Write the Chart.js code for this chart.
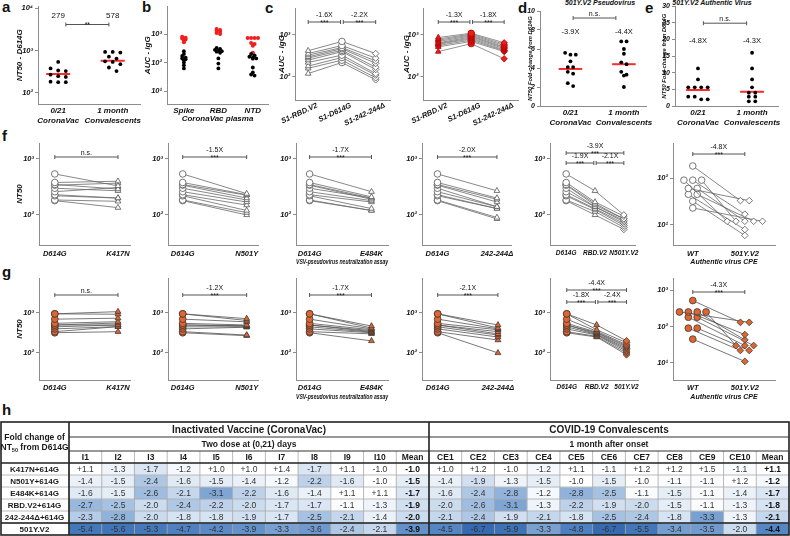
<!DOCTYPE html>
<html>
<head>
<meta charset="utf-8">
<title>501Y.V2 neutralization</title>
<script src="https://cdn.jsdelivr.net/npm/chart.js@4.4.0/dist/chart.umd.min.js"></script>
<style>
  body { margin: 0; width: 790px; height: 536px; position: relative; overflow: hidden; background: #fff;
         font-family: "Liberation Sans", Arial, sans-serif; color: #111; }
  canvas { position: absolute; }
  .letter { position: absolute; font-size: 15px; font-weight: bold; line-height: 15px; }
  .title { position: absolute; font-size: 7px; font-style: italic; font-weight: bold; white-space: nowrap; transform: translateX(-50%); }
</style>
</head>
<body>
<div class="letter" style="left:2px;top:-1px">a</div>
<div class="letter" style="left:142px;top:-1px">b</div>
<div class="letter" style="left:265px;top:0px">c</div>
<div class="letter" style="left:518px;top:0px">d</div>
<div class="letter" style="left:645px;top:0px">e</div>
<div class="letter" style="left:2px;top:128px">f</div>
<div class="letter" style="left:2px;top:264px">g</div>
<div class="letter" style="left:2px;top:402px">h</div>
<div class="title" style="left:600px;top:-1px">501Y.V2 Pseudovirus</div>
<div class="title" style="left:712px;top:-1px">501Y.V2 Authentic Virus</div>
<script>
// ---- a: NT50 against D614G
const aGroups = ['0/21|CoronaVac', '1 month|Convalescents'];
const aCoronaVac = [540, 380, 340, 330, 270, 250, 240, 185, 180, 180];
const aConvalescent = [930, 930, 900, 720, 650, 560, 540, 480, 400, 330];
const aGeoMean = [279, 578];

// ---- b: IgG AUC in CoronaVac plasma
const bAntigens = ['Spike', 'RBD', 'NTD'];
const bBlack = [
  [250, 200, 170, 150, 140, 130, 120, 100, 80, 62],
  [330, 300, 280, 260, 250, 240, 220, 140, 92, 62],
  [200, 180, 160, 150, 140, 137, 67, 45, 38, 35]
];
const bRed = [
  [800, 750, 700, 650, 600, 520],
  [1500, 1400, 1300, 1200, 1100, 1000],
  [730, 730, 730, 730, 490, 450, 390, 220]
];

// ---- c: S1 IgG AUC
const cAntigens = ['S1-RBD.V2', 'S1-D614G', 'S1-242-244Δ'];
const cCoronaVac = [
  [420, 360, 330, 300, 280, 250, 220, 180, 160, 120],
  [700, 560, 500, 470, 430, 400, 330, 290, 250, 220],
  [360, 280, 240, 210, 170, 150, 120, 110, 95, 85]
];
const cConvalescent = [
  [870, 800, 750, 700, 650, 620, 600, 560, 520, 400],
  [1100, 1050, 1000, 950, 900, 850, 800, 750, 700, 620],
  [650, 600, 560, 520, 500, 470, 440, 420, 400, 270]
];
const cFold = [['-1.6X', '-2.2X'], ['-1.3X', '-1.8X']];

// ---- d, e: fold change from D614G
const deGroups = ['0/21|CoronaVac', '1 month|Convalescents'];
const dCoronaVac = [5.6, 5.4, 5.4, 4.7, 4.1, 4.1, 3.6, 3.4, 2.4, 2.1];
const dConvalescent = [6.8, 6.8, 6.0, 5.5, 4.6, 4.4, 3.6, 3.3, 3.2, 2.0];
const dMean = [3.9, 4.4];
const eCoronaVac = [11.3, 8.0, 5.6, 5.6, 5.6, 5.6, 2.8, 2.8, 2.0, 2.0];
const eConvalescent = [16, 11.3, 8.0, 5.6, 4.0, 4.0, 2.8, 2.8, 1.4, 1.4];
const eMean = [4.8, 4.3];

// ---- f: CoronaVac sera, NT50
const pseudoVariants = ['K417N', 'N501Y', 'E484K', '242-244Δ'];
const fD614G = [540, 380, 350, 340, 300, 260, 230, 220, 185, 180];
const fVariant = [
  [330, 400, 290, 370, 270, 310, 200, 200, 175, 135],
  [240, 230, 225, 200, 185, 170, 150, 120, 110, 100],
  [260, 210, 200, 190, 200, 180, 170, 130, 120, 120],
  [270, 200, 190, 170, 140, 140, 130, 130, 90, 85]
];
const fFold = ['n.s.', '-1.5X', '-1.7X', '-2.0X'];
const fRBDV2 = [270, 170, 160, 150, 140, 140, 130, 125, 115, 100];
const fN501YV2 = [100, 95, 85, 85, 80, 75, 70, 65, 60, 55];
const fV2Fold = ['-3.9X', '-1.9X', '-2.1X'];
const fWT = [180, 90, 90, 90, 60, 60, 45, 45, 32, 23];
const f501YV2 = [33, 12, 17, 12, 33, 12, 8, 12, 6, 12];
const fCpeFold = '-4.8X';

// ---- g: convalescent sera, NT50
const gD614G = [950, 950, 700, 550, 500, 500, 450, 400, 340, 320];
const gVariant = [
  [1080, 930, 740, 605, 560, 500, 500, 455, 455, 340],
  [720, 650, 600, 500, 480, 470, 450, 440, 280, 270],
  [470, 420, 400, 380, 360, 340, 330, 320, 300, 200],
  [500, 420, 400, 380, 340, 300, 280, 250, 210, 100]
];
const gFold = ['n.s.', '-1.2X', '-1.7X', '-2.1X'];
const gRBDV2 = [500, 380, 350, 330, 320, 300, 290, 280, 260, 250];
const g501YV2 = [200, 180, 160, 150, 140, 130, 120, 110, 100, 90];
const gV2Fold = ['-4.4X', '-1.8X', '-2.4X'];
const gWT = [515, 250, 250, 250, 250, 180, 180, 90, 90, 45];
const gCpe501YV2 = [130, 130, 60, 43, 30, 30, 30, 22, 22, 11];
const gCpeFold = '-4.3X';

// ---- h: fold change table
const tableRows = ['K417N+614G', 'N501Y+614G', 'E484K+614G', 'RBD.V2+614G', '242-244Δ+614G', '501Y.V2'];
const vaccineCols = ['I1', 'I2', 'I3', 'I4', 'I5', 'I6', 'I7', 'I8', 'I9', 'I10', 'Mean'];
const convCols = ['CE1', 'CE2', 'CE3', 'CE4', 'CE5', 'CE6', 'CE7', 'CE8', 'CE9', 'CE10', 'Mean'];
const vaccineFold = [
  [1.1, -1.3, -1.7, -1.2, 1.0, 1.0, 1.4, -1.7, 1.1, -1.0, -1.0],
  [-1.4, -1.5, -2.4, -1.6, -1.5, -1.4, -1.2, -2.2, -1.6, -1.0, -1.5],
  [-1.6, -1.5, -2.6, -2.1, -3.1, -2.2, -1.6, -1.4, 1.1, 1.1, -1.7],
  [-2.7, -2.5, -2.0, -2.4, -2.2, -2.0, -1.7, -1.7, -1.1, -1.3, -1.9],
  [-2.3, -2.8, -2.0, -1.8, -1.8, -1.9, -1.7, -2.5, -2.1, -1.4, -2.0],
  [-5.4, -5.6, -5.3, -4.7, -4.2, -3.9, -3.3, -3.6, -2.4, -2.1, -3.9]
];
const convFold = [
  [1.0, 1.2, -1.0, -1.2, 1.1, -1.1, 1.2, 1.2, 1.5, -1.1, 1.1],
  [-1.4, -1.9, -1.3, -1.5, -1.0, -1.5, -1.0, -1.1, -1.1, 1.2, -1.2],
  [-1.6, -2.4, -2.8, -1.2, -2.8, -2.5, -1.1, -1.5, -1.1, -1.4, -1.7],
  [-2.0, -2.6, -3.1, -1.3, -2.2, -1.9, -2.0, -1.5, -1.1, -1.3, -1.8],
  [-2.1, -2.4, -1.9, -2.1, -1.8, -2.5, -2.4, -1.8, -3.3, -1.3, -2.1],
  [-4.5, -6.7, -5.9, -3.3, -4.8, -6.7, -5.5, -3.4, -3.5, -2.0, -4.4]
];

// ---------------------------------------------------------------
const FONT = '"Liberation Sans", Arial, sans-serif';
Chart.defaults.font.family = FONT;
Chart.defaults.color = '#111';

const SUP = {0: '⁰', 1: '¹', 2: '²', 3: '³', 4: '⁴'};
const axisGrey = '#8c8c8c';
const tickFont = {size: 7.5, style: 'italic', weight: 'bold'};
const labFont = {size: 8, style: 'italic', weight: 'bold'};
const smallFont = {size: 7, style: 'italic', weight: 'bold'};

// spread points that share (nearly) the same value side by side
function swarm(vals, step, tol, log) {
  const t = vals.map(v => log ? Math.log10(v) : v);
  const order = t.map((v, i) => i).sort((i, j) => t[j] - t[i]);
  const off = new Array(vals.length).fill(0);
  let grp = [];
  const flush = () => {
    grp.forEach((idx, k) => { off[idx] = (k - (grp.length - 1) / 2) * step; });
    grp = [];
  };
  order.forEach(i => {
    if (grp.length && t[grp[0]] - t[i] > tol) flush();
    grp.push(i);
  });
  flush();
  return off;
}

function dots(values, cat, step, tol, log, color, r) {
  const off = swarm(values, step, tol, log);
  return {
    data: values.map((v, i) => ({x: cat + off[i], y: v})),
    pointRadius: r, pointBackgroundColor: color, pointBorderColor: color, pointBorderWidth: 0
  };
}

function meanBar(v, cat) {
  return {data: [{x: cat - 0.22, y: v}, {x: cat + 0.22, y: v}], showLine: true,
          borderColor: '#ff2a2a', borderWidth: 2, pointRadius: 0};
}

// one line per donor, joining that donor's values across categories
function paired(series, styles, o) {
  const offs = series.map(s => o.swarm ? swarm(s, o.swarm, o.tol, true) : s.map(() => 0));
  return series[0].map((_, i) => ({
    data: series.map((s, k) => ({x: k + 1 + offs[k][i], y: s[i]})),
    showLine: true, borderColor: o.line, borderWidth: 0.8,
    pointStyle: styles, pointRadius: o.r, pointBackgroundColor: o.fill,
    pointBorderColor: o.edge, pointBorderWidth: 0.8
  }));
}

const openStyle = {line: '#6a6a6a', fill: '#fff', edge: '#555', r: 3.3};
const orangeStyle = {line: '#555', fill: '#e2652e', edge: '#3a3a3a', r: 3.4};
const redStyle = {line: '#777', fill: '#f01c1c', edge: '#b00000', r: 3.2};

function yAxis(o) {
  const ax = {
    type: o.log ? 'logarithmic' : 'linear',
    min: o.min, max: o.max,
    ticks: {font: o.font || tickFont, color: '#111', padding: 2, autoSkip: false},
    grid: {display: true, drawOnChartArea: false, tickLength: 3, color: axisGrey},
    border: {color: axisGrey},
    title: {display: !!o.title, text: o.title || '', font: o.titleFont || labFont, color: '#111'}
  };
  if (o.log) {
    ax.afterBuildTicks = s => { s.ticks = o.powers.map(v => ({value: v})); };
    ax.ticks.callback = v => '10' + SUP[Math.round(Math.log10(v))];
  } else {
    ax.ticks.stepSize = o.step;
  }
  return ax;
}

function xAxis(o) {
  return {
    type: 'linear', min: o.min, max: o.max,
    afterBuildTicks: s => { s.ticks = o.labels.map((_, i) => ({value: i + 1})); },
    ticks: {font: o.font || tickFont, color: '#111', padding: o.pad ?? 2, autoSkip: false,
            minRotation: o.rot || 0, maxRotation: o.rot || 0, labelOffset: o.shift || 0,
            callback: v => o.labels[Math.round(v) - 1].split('|')},
    grid: {display: false, drawTicks: false},
    border: {color: axisGrey},
    title: {display: !!o.title, text: o.title || '', font: o.titleFont || smallFont, color: '#111'}
  };
}

// brackets with fold labels and free texts placed on the x scale
const marks = {
  id: 'marks',
  afterDatasetsDraw(chart, args, opts) {
    const {ctx, chartArea: ca, scales: {x}} = chart;
    ctx.save();
    ctx.fillStyle = '#111';
    ctx.strokeStyle = '#555';
    ctx.lineWidth = 1;
    ctx.textAlign = 'center';
    (opts.brackets || []).forEach(b => {
      const x1 = x.getPixelForValue(b.from), x2 = x.getPixelForValue(b.to);
      const yy = ca.top + b.dy, xm = (x1 + x2) / 2;
      ctx.beginPath();
      ctx.moveTo(x1, yy); ctx.lineTo(x2, yy);
      ctx.moveTo(x1, yy - 2); ctx.lineTo(x1, yy + 2);
      ctx.moveTo(x2, yy - 2); ctx.lineTo(x2, yy + 2);
      ctx.stroke();
      ctx.textBaseline = 'alphabetic';
      ctx.font = '7px ' + FONT;
      if (b.stars) ctx.fillText(b.stars, xm, yy + 2.5);
      if (b.label) ctx.fillText(b.label, xm, yy - (b.stars ? 5 : 2));
    });
    (opts.texts || []).forEach(t => {
      ctx.font = (t.size || 7.5) + 'px ' + FONT;
      ctx.textBaseline = 'middle';
      ctx.fillText(t.text, x.getPixelForValue(t.at), ca.top + t.dy);
    });
    ctx.restore();
  }
};
Chart.register(marks);

function panel(box, plot, cfg) {
  const cv = document.createElement('canvas');
  cv.width = box.w; cv.height = box.h;
  cv.style.left = box.x + 'px'; cv.style.top = box.y + 'px';
  document.body.appendChild(cv);
  const {x, y} = cfg.scales;
  y.afterFit = s => { s.width = plot.l - box.x; };
  x.afterFit = s => { s.height = box.y + box.h - plot.b; };
  if (cfg.yTitleX !== undefined) {
    const lh = y.title.font.size * 1.2;
    y.title.padding = {top: cfg.yTitleX - box.x - lh / 2, bottom: 0};
  }
  if (cfg.xTitleY !== undefined) {
    const lh = x.title.font.size * 1.2;
    x.title.padding = {top: 0, bottom: box.y + box.h - cfg.xTitleY - lh / 2};
  }
  return new Chart(cv, {
    type: 'scatter',
    data: {datasets: cfg.datasets},
    options: {
      responsive: false, animation: false, devicePixelRatio: 1, events: [],
      layout: {padding: {left: 0, top: plot.t - box.y, right: box.x + box.w - plot.r, bottom: 0}},
      scales: {x, y},
      plugins: {legend: {display: false}, tooltip: {enabled: false}, marks: cfg.marks || {}}
    }
  });
}

// ---- a
panel({x: 0, y: 0, w: 150, h: 126}, {l: 38, t: 5, r: 140, b: 104}, {
  scales: {
    x: xAxis({labels: aGroups, min: 0.63, max: 2.5, pad: 2, font: labFont}),
    y: yAxis({log: true, min: 55, max: 11000, powers: [100, 1000, 10000], title: 'NT50 - D614G'})
  },
  yTitleX: 20,
  datasets: [
    dots(aCoronaVac, 1, 0.14, 0.09, true, '#000', 1.9),
    dots(aConvalescent, 2, 0.14, 0.09, true, '#000', 1.9),
    meanBar(aGeoMean[0], 1), meanBar(aGeoMean[1], 2)
  ],
  marks: {
    brackets: [{from: 1.14, to: 1.93, dy: 18, stars: '**'}],
    texts: aGeoMean.map((m, i) => ({at: i + 1, dy: 9, text: String(m), size: 8}))
  }
});

// ---- b
panel({x: 142, y: 0, w: 133, h: 126}, {l: 167, t: 5, r: 268, b: 104}, {
  scales: {
    x: xAxis({labels: bAntigens, min: 0.51, max: 3.44, pad: 2, font: labFont,
              title: 'CoronaVac plasma', titleFont: labFont}),
    y: yAxis({log: true, min: 3.5, max: 9300, powers: [10, 100, 1000], title: 'AUC - IgG'})
  },
  yTitleX: 148, xTitleY: 119,
  datasets: bAntigens.flatMap((_, k) => [
    dots(bBlack[k], k + 1, 0.1, 0.06, true, '#000', 1.9),
    dots(bRed[k], k + 1, 0.1, 0.05, true, '#f21d1d', 2)
  ])
});

// ---- c
[[cCoronaVac, openStyle, {x: 268, w: 127}, {l: 295, r: 392}, 0.62, 3.43, 281],
 [cConvalescent, redStyle, {x: 398, w: 127}, {l: 422, r: 518}, 0.55, 3.42, 405]]
  .forEach(([series, st, bx, pl, mn, mx, tx], j) => {
    panel({x: bx.x, y: 0, w: bx.w, h: 126}, {l: pl.l, t: 8, r: pl.r, b: 100}, {
      scales: {
        x: xAxis({labels: cAntigens, min: mn, max: mx, rot: 25, pad: 1, shift: 9}),
        y: yAxis({log: true, min: 28, max: 4400, powers: [100, 1000], title: 'AUC - IgG'})
      },
      yTitleX: tx,
      datasets: paired(series, ['triangle', 'circle', 'rectRot'], st),
      marks: {brackets: [
        {from: 1, to: 1.96, dy: 14, label: cFold[j][0], stars: '***'},
        {from: 2.04, to: 3, dy: 14, label: cFold[j][1], stars: '***'}
      ]}
    });
  });

// ---- d, e
const foldText = v => '-' + v.toFixed(1) + 'X';
const tinyTitle = {size: 5.8, style: 'italic', weight: 'bold'};
panel({x: 520, y: 0, w: 135, h: 126}, {l: 540, t: 11, r: 652, b: 106}, {
  scales: {
    x: xAxis({labels: deGroups, min: 0.43, max: 2.43, pad: 2, font: labFont}),
    y: yAxis({min: 0, max: 10, step: 2, font: smallFont, title: 'NT50 Fold-change from D614G', titleFont: tinyTitle})
  },
  yTitleX: 530,
  datasets: [
    dots(dCoronaVac, 1, 0.1, 0.35, false, '#000', 1.9),
    dots(dConvalescent, 2, 0.1, 0.35, false, '#000', 1.9),
    meanBar(dMean[0], 1), meanBar(dMean[1], 2)
  ],
  marks: {
    brackets: [{from: 1.05, to: 1.85, dy: 7, label: 'n.s.'}],
    texts: dMean.map((m, i) => ({at: i + 1, dy: 21, text: foldText(m)}))
  }
});

panel({x: 655, y: 0, w: 135, h: 126}, {l: 675, t: 5, r: 778, b: 106}, {
  scales: {
    x: xAxis({labels: deGroups, min: 0.575, max: 2.48, pad: 2, font: labFont}),
    y: yAxis({min: 0, max: 30, step: 5, font: smallFont, title: 'NT50 Fold-change from D614G', titleFont: tinyTitle})
  },
  yTitleX: 664,
  datasets: [
    dots(eCoronaVac, 1, 0.12, 0.9, false, '#000', 1.9),
    dots(eConvalescent, 2, 0.12, 0.9, false, '#000', 1.9),
    meanBar(eMean[0], 1), meanBar(eMean[1], 2)
  ],
  marks: {
    brackets: [{from: 1.1, to: 1.9, dy: 17, label: 'n.s.'}],
    texts: eMean.map((m, i) => ({at: i + 1, dy: 35, text: foldText(m)}))
  }
});

// ---- f, g rows
const rowCols = [
  {x: 0, w: 135, l: 39, r: 130, min: 0.75, max: 2.19},
  {x: 135, w: 128, l: 168, r: 260, min: 0.77, max: 2.18},
  {x: 263, w: 130, l: 296, r: 390, min: 0.78, max: 2.27},
  {x: 393, w: 125, l: 422, r: 515, min: 0.74, max: 2.24},
  {x: 518, w: 125, l: 550, r: 640, min: 0.44, max: 3.39},
  {x: 643, w: 140, l: 673, r: 775, min: 0.62, max: 2.58}
];
const stars = f => f === 'n.s.' ? '' : '***';
const v2Font = {size: 6.5, style: 'italic', weight: 'bold'};

function row(R, d) {
  const xTitle = {2: 'VSV-pseudovirus neutralization assay', 5: 'Authentic virus CPE'};
  rowCols.forEach((c, k) => {
    const box = {x: c.x, y: R.y, w: c.w, h: R.h};
    const plot = {l: c.l, t: R.t, r: c.r, b: R.b};
    let labels, datasets, brackets;
    if (k < 4) {
      labels = ['D614G', pseudoVariants[k]];
      datasets = paired([d.wt, d.variant[k]], ['circle', 'triangle'], d.style);
      brackets = [{from: 1, to: 2, dy: R.dy, label: d.fold[k], stars: stars(d.fold[k])}];
    } else if (k === 4) {
      labels = ['D614G', 'RBD.V2', d.v2Name];
      datasets = paired([d.wt, d.rbd, d.v2], ['circle', 'triangle', 'rectRot'], d.style);
      brackets = [
        {from: 1, to: 3, dy: R.dy5[0], label: d.v2Fold[0], stars: '***'},
        {from: 1, to: 1.96, dy: R.dy5[1], label: d.v2Fold[1], stars: '***'},
        {from: 2.04, to: 3, dy: R.dy5[1], label: d.v2Fold[2], stars: '***'}
      ];
    } else {
      labels = ['WT', '501Y.V2'];
      datasets = paired([d.cpeWT, d.cpeV2], ['circle', 'rectRot'], Object.assign({swarm: 0.17, tol: 0.08}, d.style));
      brackets = [{from: 1, to: 2, dy: R.dy6, label: d.cpeFold, stars: '***'}];
    }
    const yax = k < 5
      ? yAxis({log: true, min: R.min, max: R.max, powers: R.powers, title: k === 0 ? 'NT50' : ''})
      : yAxis({log: true, min: R.min6, max: R.max6, powers: R.powers6});
    panel(box, plot, {
      scales: {
        x: xAxis({labels, min: c.min, max: c.max, pad: R.pad, title: xTitle[k],
                  font: k === 4 ? v2Font : tickFont}),
        y: yax
      },
      yTitleX: k === 0 ? 20 : undefined,
      xTitleY: xTitle[k] ? R.titleY : undefined,
      datasets,
      marks: {brackets}
    });
  });
}

row({y: 135, h: 133, t: 143, b: 245, min: 29, max: 1930, powers: [100, 1000],
     min6: 3.75, max6: 556, powers6: [10, 100], dy: 14, dy5: [10, 20], dy6: 11, pad: 4, titleY: 262},
    {wt: fD614G, variant: fVariant, fold: fFold, rbd: fRBDV2, v2: fN501YV2, v2Name: 'N501Y.V2',
     v2Fold: fV2Fold, cpeWT: fWT, cpeV2: f501YV2, cpeFold: fCpeFold, style: openStyle});

row({y: 268, h: 133, t: 278, b: 380, min: 21, max: 7500, powers: [100, 1000],
     min6: 3.4, max6: 2140, powers6: [10, 100, 1000], dy: 17, dy5: [12, 24], dy6: 14, pad: 3, titleY: 397},
    {wt: gD614G, variant: gVariant, fold: gFold, rbd: gRBDV2, v2: g501YV2, v2Name: '501Y.V2',
     v2Fold: gV2Fold, cpeWT: gWT, cpeV2: gCpe501YV2, cpeFold: gCpeFold, style: orangeStyle});

// ---- h: heat table drawn as floating bars, one dataset per row
const tableCols = vaccineCols.concat(convCols);
const tableVals = tableRows.map((_, r) => vaccineFold[r].concat(convFold[r]));

const heatStops = [[1.0, [255, 255, 255]], [1.5, [229, 237, 247]], [2.0, [204, 220, 239]],
                   [2.5, [166, 194, 227]], [3.0, [130, 168, 213]], [4.0, [96, 142, 201]],
                   [5.0, [72, 124, 191]], [7.0, [50, 102, 174]]];
function heat(v) {
  const m = v > 0 ? 1 : -v;
  for (let i = 1; i < heatStops.length; i++) {
    const [a, ca] = heatStops[i - 1], [b, cb] = heatStops[i];
    if (m <= b) {
      const t = Math.max(0, (m - a) / (b - a));
      return 'rgb(' + ca.map((c, j) => Math.round(c + (cb[j] - c) * t)).join(',') + ')';
    }
  }
  return 'rgb(50,102,174)';
}
const fmt = v => (v > 0 ? '+' : '') + v.toFixed(1);

const tableDraw = {
  id: 'tableDraw',
  afterDraw(chart) {
    const {ctx, chartArea: ca} = chart;
    const bars = chart.getDatasetMeta(0).data;
    const edges = bars.map(b => b.x - b.width / 2);
    edges.push(bars[bars.length - 1].x + bars[bars.length - 1].width / 2);
    const rowH = (ca.bottom - ca.top) / tableRows.length;
    const hTop = ca.top - 41, h1 = ca.top - 26, h2 = ca.top - 12;
    const L = 1, R = ca.right, B = ca.bottom;
    const f = (w, s) => w + ' ' + s + 'px ' + FONT;
    ctx.save();
    // thin cell lines
    ctx.strokeStyle = '#a8a8a8'; ctx.lineWidth = 0.8;
    ctx.beginPath();
    edges.forEach(x => { ctx.moveTo(x, h2); ctx.lineTo(x, B); });
    for (let r = 1; r < tableRows.length; r++) {
      const y = ca.top + r * rowH;
      ctx.moveTo(L, y); ctx.lineTo(R, y);
    }
    ctx.stroke();
    ctx.strokeStyle = '#333'; ctx.lineWidth = 1;
    ctx.beginPath();
    ctx.moveTo(edges[0], h1); ctx.lineTo(R, h1);
    ctx.moveTo(edges[0], h2); ctx.lineTo(R, h2);
    ctx.stroke();
    // heavy frame
    ctx.strokeStyle = '#222'; ctx.lineWidth = 1.6;
    ctx.strokeRect(L, hTop, R - L, B - hTop);
    ctx.beginPath();
    [edges[0], edges[11]].forEach(x => { ctx.moveTo(x, hTop); ctx.lineTo(x, B); });
    ctx.moveTo(L, ca.top); ctx.lineTo(R, ca.top);
    ctx.moveTo(L, ca.top + 5 * rowH); ctx.lineTo(R, ca.top + 5 * rowH);
    ctx.stroke();

    ctx.fillStyle = '#1a1a1a'; ctx.textAlign = 'center'; ctx.textBaseline = 'middle';
    // section headers
    const midV = (edges[0] + edges[11]) / 2, midC = (edges[11] + edges[22]) / 2;
    ctx.font = f('bold', 10);
    ctx.fillText('Inactivated Vaccine (CoronaVac)', midV, (hTop + h1) / 2 + 0.5);
    ctx.fillText('COVID-19 Convalescents', midC, (hTop + h1) / 2 + 0.5);
    ctx.font = f('bold', 8.5);
    ctx.fillText('Two dose at (0,21) days', midV, (h1 + h2) / 2 + 0.5);
    ctx.fillText('1 month after onset', midC, (h1 + h2) / 2 + 0.5);
    tableCols.forEach((c, k) => ctx.fillText(c, (edges[k] + edges[k + 1]) / 2, (h2 + ca.top) / 2 + 0.5));
    // corner label with subscript
    const lx = edges[0] / 2;
    ctx.font = f('bold', 8.5);
    ctx.fillText('Fold change of', lx, ca.top - 25);
    const p1 = 'NT', p2 = '50', p3 = ' from D614G';
    const w1 = ctx.measureText(p1).width, w3 = ctx.measureText(p3).width;
    ctx.font = f('bold', 5.5);
    const w2 = ctx.measureText(p2).width;
    const sx = lx - (w1 + w2 + w3) / 2;
    ctx.textAlign = 'left';
    ctx.font = f('bold', 8.5); ctx.fillText(p1, sx, ca.top - 15);
    ctx.font = f('bold', 5.5); ctx.fillText(p2, sx + w1, ca.top - 12.5);
    ctx.font = f('bold', 8.5); ctx.fillText(p3, sx + w1 + w2, ca.top - 15);
    ctx.textAlign = 'center';
    // rows
    tableRows.forEach((name, r) => {
      const y = ca.top + (r + 0.5) * rowH + 0.5;
      ctx.fillStyle = '#1a1a1a';
      ctx.font = f('bold', 8);
      ctx.fillText(name, lx, y);
      tableVals[r].forEach((v, k) => {
        const mean = tableCols[k] === 'Mean';
        ctx.fillStyle = mean ? '#111' : '#333';
        ctx.font = f(mean ? 'bold' : 'normal', 8.5);
        ctx.fillText(fmt(v), (edges[k] + edges[k + 1]) / 2, y);
      });
    });
    ctx.restore();
  }
};

(function () {
  const cv = document.createElement('canvas');
  cv.width = 790; cv.height = 118;
  cv.style.left = '0px'; cv.style.top = '418px';
  document.body.appendChild(cv);
  new Chart(cv, {
    type: 'bar',
    data: {
      labels: tableCols,
      datasets: tableRows.map((name, r) => ({
        label: name,
        data: tableCols.map(() => [r, r + 1]),
        backgroundColor: tableVals[r].map(heat),
        grouped: false, barPercentage: 1, categoryPercentage: 1, borderWidth: 0
      }))
    },
    options: {
      responsive: false, animation: false, devicePixelRatio: 1, events: [],
      layout: {padding: {left: 69, top: 45, right: 1, bottom: 1}},
      scales: {x: {display: false}, y: {display: false, min: 0, max: 6, reverse: true}},
      plugins: {legend: {display: false}, tooltip: {enabled: false}}
    },
    plugins: [tableDraw]
  });
})();
</script>
</body>
</html>
